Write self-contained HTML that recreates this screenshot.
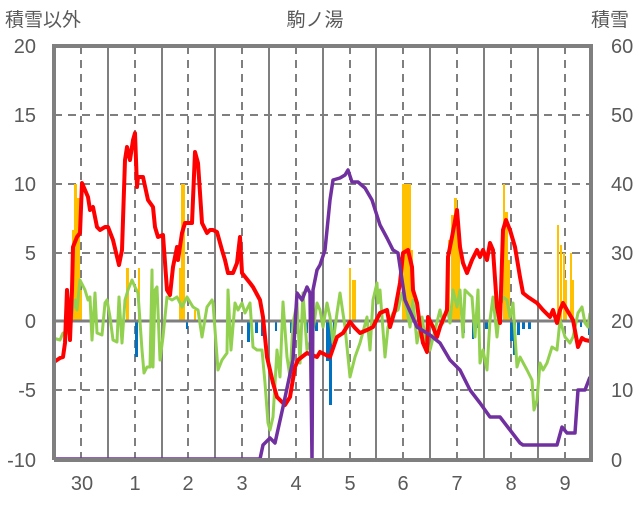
<!DOCTYPE html>
<html><head><meta charset="utf-8"><style>
body{margin:0;background:#fff}
text{font-family:"Liberation Sans","Noto Sans CJK JP",sans-serif;fill:#595959}
</style></head><body>
<svg width="636" height="501" viewBox="0 0 636 501" xmlns="http://www.w3.org/2000/svg">
<rect width="636" height="501" fill="#fff"/>
<g stroke="#7f7f7f" stroke-width="2" stroke-dasharray="8,6">
<line x1="54" y1="115" x2="591" y2="115"/><line x1="54" y1="184" x2="591" y2="184"/>
<line x1="54" y1="253" x2="591" y2="253"/><line x1="54" y1="390" x2="591" y2="390"/>
<line x1="81" y1="46" x2="81" y2="460"/><line x1="135" y1="46" x2="135" y2="460"/>
<line x1="188" y1="46" x2="188" y2="460"/><line x1="242" y1="46" x2="242" y2="460"/>
<line x1="296" y1="46" x2="296" y2="460"/><line x1="350" y1="46" x2="350" y2="460"/>
<line x1="403" y1="46" x2="403" y2="460"/><line x1="457" y1="46" x2="457" y2="460"/>
<line x1="511" y1="46" x2="511" y2="460"/><line x1="565" y1="46" x2="565" y2="460"/>
</g>
<g stroke="#7f7f7f" stroke-width="2">
<line x1="108" y1="46" x2="108" y2="460"/><line x1="162" y1="46" x2="162" y2="460"/>
<line x1="215" y1="46" x2="215" y2="460"/><line x1="269" y1="46" x2="269" y2="460"/>
<line x1="323" y1="46" x2="323" y2="460"/><line x1="376" y1="46" x2="376" y2="460"/>
<line x1="430" y1="46" x2="430" y2="460"/><line x1="484" y1="46" x2="484" y2="460"/>
<line x1="538" y1="46" x2="538" y2="460"/>
</g>
<!-- orange bars -->
<g fill="#ffc000">
<rect x="72" y="230" width="2" height="91"/><rect x="74" y="184" width="3" height="137"/><rect x="77" y="198" width="3" height="123"/><rect x="80" y="290" width="2" height="31"/>
<rect x="126" y="268" width="3" height="53"/><rect x="138" y="268" width="2" height="53"/>
<rect x="179" y="268" width="3" height="53"/><rect x="181" y="184" width="4" height="137"/><rect x="194" y="310" width="2" height="11"/>
<rect x="349" y="268" width="2" height="53"/><rect x="352" y="280" width="4" height="41"/>
<rect x="402" y="184" width="9" height="137"/><rect x="411" y="250" width="2" height="71"/>
<rect x="448" y="240" width="2" height="81"/><rect x="451" y="215" width="3" height="106"/><rect x="454" y="198" width="3" height="123"/><rect x="457" y="230" width="3" height="91"/>
<rect x="503" y="184" width="2" height="137"/><rect x="505" y="212" width="3" height="109"/><rect x="508" y="260" width="2" height="61"/>
<rect x="557" y="225" width="2" height="96"/><rect x="560" y="245" width="2" height="76"/><rect x="563" y="253" width="2" height="68"/><rect x="565" y="280" width="2" height="41"/><rect x="570" y="253" width="2" height="68"/><rect x="572" y="280" width="2" height="41"/>
</g>
<!-- blue bars -->
<g fill="#0070c0">
<rect x="135" y="321" width="3" height="36"/><rect x="139" y="321" width="2" height="9"/><rect x="186" y="321" width="2" height="8"/>
<rect x="247" y="321" width="3" height="21"/><rect x="255" y="321" width="3" height="12"/><rect x="261" y="321" width="3" height="15"/>
<rect x="275" y="321" width="2" height="10"/><rect x="290" y="321" width="3" height="12"/><rect x="305" y="321" width="3" height="12"/>
<rect x="315" y="321" width="3" height="10"/><rect x="326" y="321" width="3" height="40"/><rect x="329" y="321" width="3" height="84"/><rect x="333" y="321" width="2" height="10"/>
<rect x="463" y="321" width="2" height="12"/><rect x="472" y="321" width="2" height="18"/><rect x="477" y="321" width="2" height="7"/><rect x="485" y="321" width="3" height="8"/>
<rect x="510" y="321" width="3" height="20"/><rect x="513" y="321" width="3" height="34"/><rect x="517" y="321" width="3" height="14"/><rect x="522" y="321" width="3" height="8"/><rect x="528" y="321" width="3" height="8"/><rect x="580" y="321" width="2" height="6"/><rect x="588" y="321" width="3" height="14"/>
</g>
<line x1="54" y1="321" x2="591" y2="321" stroke="#7f7f7f" stroke-width="3"/>
<!-- green -->
<polyline fill="none" stroke="#92d050" stroke-width="3" stroke-linejoin="round" points="53,338 60,340 63,333 67,333 68,297 72,313 75,300 77,310 80,280 85,290 88,300 90,297 92,340 95,293 97,333 102,335 105,303 107,300 110,317 113,340 117,342 119,297 122,343 125,300 128,290 132,280 135,287 138,293 142,350 144,373 147,367 150,367 152,270 153,367 155,290 157,287 160,360 163,337 167,297 172,300 177,297 182,307 187,297 193,307 198,310 202,337 207,307 212,300 213,303 218,370 222,360 227,353 228,290 231,350 235,303 238,310 242,303 245,313 248,307 250,303 253,347 257,350 262,350 265,383 268,423 270,430 273,417 277,350 280,377 283,302 287,357 290,377 293,323 297,303 300,363 303,293 307,350 312,337 317,303 320,310 323,327 327,303 330,317 333,343 337,313 340,293 345,327 350,377 355,357 360,343 367,317 370,350 373,300 377,283 378,303 380,290 385,357 388,327 393,313 398,310 402,293 407,310 410,327 413,300 417,343 422,317 427,350 430,350 435,330 440,310 443,323 447,307 450,323 453,290 457,307 460,290 463,337 465,290 472,297 475,337 478,290 480,363 483,350 487,370 490,320 493,297 497,337 500,307 503,297 507,300 510,317 513,303 517,367 520,357 527,370 532,380 534,410 537,400 540,363 543,370 547,363 552,347 557,350 560,320 565,337 570,343 573,337 578,313 582,307 585,323 588,327 590,313"/>
<!-- red -->
<polyline fill="none" stroke="#ff0000" stroke-width="4" stroke-linejoin="round" points="54,362 60,358 63,357 65,343 67,290 68,307 70,340 72,290 73,247 77,237 80,233 82,183 85,190 88,197 90,210 93,207 97,227 100,230 105,227 108,227 113,240 119,265 122,250 125,160 127,147 130,160 133,140 135,133 137,187 138,177 143,177 148,200 153,207 155,227 158,237 163,235 167,290 170,295 173,267 177,247 178,260 182,233 185,223 192,223 195,152 198,163 202,223 207,233 210,230 213,230 217,232 222,250 225,260 228,273 233,273 237,263 240,237 242,273 250,283 253,287 260,300 263,317 267,357 273,383 277,397 285,405 290,397 295,367 298,360 307,353 317,357 320,352 330,357 337,337 343,333 350,322 355,328 360,333 367,330 373,327 380,313 387,310 390,327 395,310 400,283 403,253 408,250 412,267 413,290 417,303 420,327 423,343 427,352 428,317 433,327 437,337 440,327 447,310 448,257 452,237 457,210 460,247 463,263 467,273 472,260 477,250 480,257 483,250 487,260 490,243 493,250 497,307 500,323 503,230 506,220 510,230 515,247 520,277 523,293 528,297 537,303 543,310 550,317 553,310 557,323 560,310 563,303 567,310 573,320 578,347 582,338 585,340 590,341"/>
<!-- purple -->
<polyline fill="none" stroke="#7030a0" stroke-width="3.5" stroke-linejoin="round" points="54,459 260,459 263,445 270,438 275,443 283,407 293,360 297,293 302,300 307,287 310,293 312,460 313,290 317,270 320,265 325,250 330,200 333,180 340,178 345,175 348,170 352,182 358,182 365,188 372,200 380,225 387,238 393,250 398,253 405,300 417,327 430,335 440,343 450,360 460,370 470,390 480,403 490,417 500,417 510,430 520,443 523,445 557,445 562,427 567,433 575,433 578,390 585,390 590,377"/>
<!-- frame -->
<polyline fill="none" stroke="#7f7f7f" stroke-width="4" points="54,460 54,46 591,46 591,460 54,460"/>
<!-- labels -->
<g font-size="20" text-anchor="end">
<text x="36" y="53">20</text><text x="36" y="122">15</text><text x="36" y="191">10</text><text x="36" y="260">5</text><text x="36" y="328">0</text><text x="36" y="397">-5</text><text x="36" y="467">-10</text>
</g>
<g font-size="20" text-anchor="start">
<text x="611" y="53">60</text><text x="611" y="122">50</text><text x="611" y="191">40</text><text x="611" y="260">30</text><text x="611" y="328">20</text><text x="611" y="397">10</text><text x="611" y="467">0</text>
</g>
<g font-size="20" text-anchor="middle">
<text x="82" y="490">30</text><text x="135" y="490">1</text><text x="188" y="490">2</text><text x="242" y="490">3</text><text x="296" y="490">4</text><text x="350" y="490">5</text><text x="403" y="490">6</text><text x="457" y="490">7</text><text x="511" y="490">8</text><text x="565" y="490">9</text>
</g>
<text x="5" y="26" font-size="19">積雪以外</text>
<text x="315" y="26" font-size="19" text-anchor="middle">駒ノ湯</text>
<text x="591" y="26" font-size="19">積雪</text>
</svg>
</body></html>
